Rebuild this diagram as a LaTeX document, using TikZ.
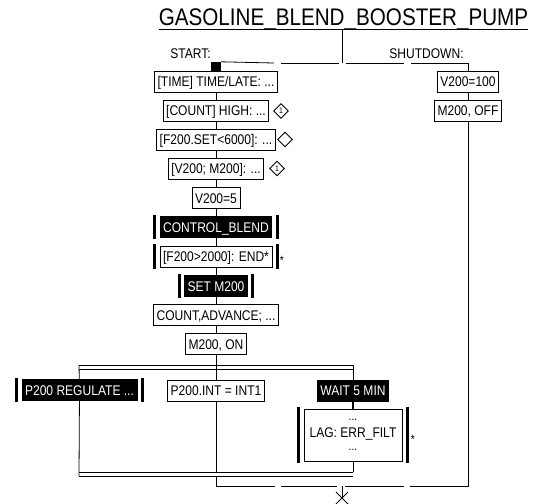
\documentclass[tikz,border=0pt]{standalone}
\usepackage{fontspec}
\setmainfont{Liberation Sans}[FakeStretch=0.86]
\usetikzlibrary{shapes.geometric}

\tikzset{
  link/.style={line width=0.8pt},
  boxbase/.style={draw, fill=white, line width=0.8pt, inner xsep=3pt, inner ysep=0pt,
    font=\fontsize{14}{16}\selectfont},
  box/.style={boxbase, minimum height=21pt, text height=10pt, text depth=0pt},
  blackbox/.style={box, fill=black, text=white},
  diam/.style={diamond, draw, line width=0.9pt, minimum size=15pt, inner sep=0pt,
    font=\fontsize{8}{8}\selectfont},
  bar/.style={line width=3pt},
  lbl/.style={inner sep=0pt, anchor=base, font=\fontsize{14}{16}\selectfont},
  star/.style={inner sep=0pt, font=\fontsize{12}{12}\selectfont}
}

% side bars of a macro step
\newcommand{\stepbars}[1]{%
  \draw[bar] ([xshift=-5pt,yshift=1.5pt]#1.north west) -- ([xshift=-5pt,yshift=-1.5pt]#1.south west);
  \draw[bar] ([xshift=5pt,yshift=1.5pt]#1.north east) -- ([xshift=5pt,yshift=-1.5pt]#1.south east);}

\begin{document}
\begin{tikzpicture}[x=1pt,y=-1pt]
    \useasboundingbox (0,0) rectangle (539,504);

    % title
    \node[lbl, font=\fontsize{24}{26}\selectfont] (title) at (343.5,25) {GASOLINE\_BLEND\_BOOSTER\_PUMP};
    \draw[link] ([yshift=-4.5pt]title.base west) -- ([yshift=-4.5pt]title.base east);
    \coordinate (tsplit) at (342,29.5);
    \coordinate (tjoin) at (342,63);
    \draw[link] (tsplit) -- (tjoin);

    % branch labels
    \node[lbl] (start) at (190.5,58) {START:};
    \node[lbl] (shut) at (426.5,58) {SHUTDOWN:};

    % start branch
    \node[fill=black, minimum width=10pt, minimum height=9pt, inner sep=0pt] (init) at (216,66.5) {};
    \node[box] (time) at (216,81.5) {[TIME] TIME/LATE: ...};
    \node[box] (count) at (216,110.5) {[COUNT] HIGH: ...};
    \node[box] (fset) at (216,139.5) {[F200.SET<6000]: ...};
    \node[box] (vm) at (216,168.5) {[V200; M200]: ...};
    \node[box] (v5) at (216,198) {V200=5};
    \node[blackbox] (cb) at (216,227) {CONTROL\_BLEND};
    \node[box] (fend) at (216,256.5) {[F200>2000]: END*};
    \node[blackbox] (setm) at (216,286) {SET M200};
    \node[box] (cadv) at (216,315) {COUNT,ADVANCE; ...};
    \node[box] (mon) at (216,344) {M200, ON};
    \stepbars{cb}
    \stepbars{fend}
    \stepbars{setm}
    \node[star] (s1) at (282,260) {*};

    % markers
    \node[diam] (d1) at (281,111) {1};
    \node[diam] (d2) at (285,139.5) {};
    \node[diam] (d3) at (277,168.5) {1};

    % shutdown branch
    \node[box] (v100) at (468,81.5) {V200=100};
    \node[box] (moff) at (468,110.5) {M200, OFF};

    % parallel part
    \coordinate (ptl) at (79,365);
    \coordinate (ptr) at (353,365);
    \coordinate (pbl) at (79,476);
    \node[blackbox] (reg) at (79.5,390) {P200 REGULATE ...};
    \node[box] (pint) at (216,390.5) {P200.INT = INT1};
    \node[blackbox] (wait) at (353,390.5) {WAIT 5 MIN};
    \node[boxbase, minimum width=98pt, minimum height=52pt, align=center] (lag) at (353,435)
        {{\fontsize{12}{10}\selectfont...}\\[1pt]LAG: ERR\_FILT\\[-3pt]{\fontsize{12}{10}\selectfont...}};
    \stepbars{reg}
    \stepbars{lag}
    \node[star] (s2) at (413,439) {*};

    % connectors
    \draw[link] (init) -- (time) -- (count) -- (fset) -- (vm) -- (v5) -- (cb) -- (fend) -- (setm) -- (cadv) -- (mon) -- (pint);
    \draw[link] (pint) -- (216,472);
    \draw[link] (ptl) -- (ptr) -- (wait);
    \draw[link] (79,369) -- (353,369);
    \draw[link] (ptl) -- (reg) -- (pbl);
    \draw[line width=2.5pt] (wait) -- (lag);
    \draw[link] (lag) -- (353,472);
    \draw[link] (79,472) -- (353,472);
    \draw[link] (pbl) -- (353,476);

    % top line with gaps
    \draw[link] (init.north east) -- (274,63);
    \draw[link] (281,63) -- (339,63);
    \draw[link] (346,63) -- (404,63);
    \coordinate (tr) at (468,63);
    \draw[link] (411,63) -- (tr) -- (v100) -- (moff);

    % bottom line with gaps
    \coordinate (bl) at (216,486);
    \coordinate (br) at (468,486);
    \coordinate (exit) at (342,486);
    \draw[link] (216,476) -- (bl) -- (275,486);
    \draw[link] (281,486) -- (337,486);
    \draw[link] (345,486) -- (404,486);
    \draw[link] (410,486) -- (br) -- (moff);
    \draw[link] (exit) -- (342,498);
    \draw[link] (336,492) -- (348,504);
    \draw[link] (336,504) -- (348,492);
\end{tikzpicture}
\end{document}
